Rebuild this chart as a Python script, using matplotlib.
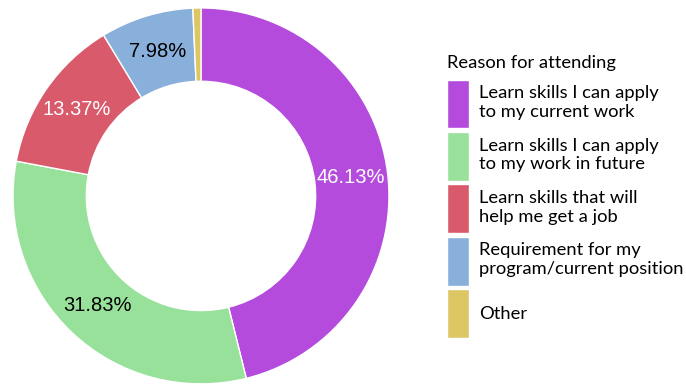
import matplotlib.pyplot as plt

# share of respondents by reason for attending
reasons = [
    "Learn skills I can apply\nto my current work",
    "Learn skills I can apply\nto my work in future",
    "Learn skills that will\nhelp me get a job",
    "Requirement for my\nprogram/current position",
    "Other",
]
shares = [46.13, 31.83, 13.37, 7.98, 0.69]
colors = ["#b44bdd", "#98e19b", "#d95a6b", "#89afdb", "#dcc764"]
label_colors = ["white", "black", "white", "black", "black"]

fig = plt.figure(figsize=(6.86, 3.85), dpi=100)
ax = fig.add_axes([0.019, 0.0026, 0.548, 0.977])

wedges, _, pct_texts = ax.pie(
    shares,
    colors=colors,
    startangle=90,
    counterclock=False,
    autopct=lambda p: f"{p:.2f}%" if p > 2 else "",
    pctdistance=0.805,
    wedgeprops=dict(width=0.39, edgecolor="white", linewidth=1),
    textprops=dict(fontsize=14.5, family="Liberation Sans"),
)
for t, c in zip(pct_texts, label_colors):
    t.set_color(c)
ax.set_xlim(-1, 1)
ax.set_ylim(-1, 1)
ax.set_aspect("equal")

leg = fig.legend(
    wedges, reasons,
    title="Reason for attending",
    loc="upper left",
    bbox_to_anchor=(0.652, 0.857),
    frameon=False,
    prop=dict(family="Lato", size=13.2),
    title_fontproperties=dict(family="Lato", size=13.2),
    handlelength=1.2,
    handleheight=3.73,
    handletextpad=0.55,
    labelspacing=0.19,
    borderaxespad=0,
    borderpad=0,
)
leg._legend_box.align = "left"
leg._legend_box.sep = 6.1  # a bit more room under the title

fig.savefig("out.png", dpi=100)
